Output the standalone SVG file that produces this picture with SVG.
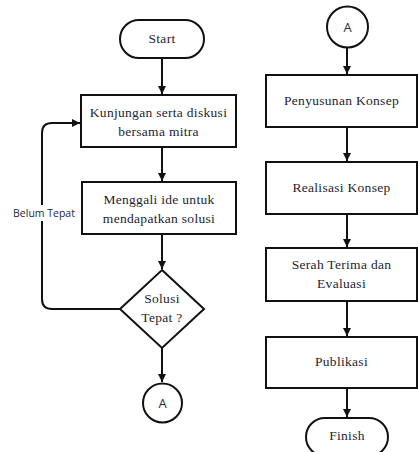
<svg xmlns="http://www.w3.org/2000/svg" width="418" height="452" viewBox="0 0 418 452">
<style>
.shape{fill:#fff;stroke:#111;stroke-width:2}
.lbl{font-family:"Liberation Serif","Times New Roman",serif;font-size:13.5px;letter-spacing:0.3px;fill:#1e1e30;text-anchor:middle}
.sans{font-family:"Open Sans","Noto Sans",sans-serif;font-size:10.5px;fill:#1e2a40;text-anchor:middle}
.conn{fill:none;stroke:#111;stroke-width:2}
</style>
<defs>
<marker id="arr" markerUnits="userSpaceOnUse" markerWidth="10" markerHeight="10" refX="8" refY="4" orient="auto">
<path d="M0,0 L8,4 L0,8 z" fill="#111"/>
</marker>
</defs>
<rect width="418" height="452" fill="#fff"/>
<g id="connectors">
<path class="conn" d="M162,58 V94" marker-end="url(#arr)"/>
<path class="conn" d="M162,147 V181" marker-end="url(#arr)"/>
<path class="conn" d="M162,234 V269" marker-end="url(#arr)"/>
<path class="conn" d="M162,348 V382" marker-end="url(#arr)"/>
<path class="conn" d="M120,309 H52 Q42,309 42,299 V133 Q42,123 52,123 H80" marker-end="url(#arr)"/>
<path class="conn" d="M347,48 V74" marker-end="url(#arr)"/>
<path class="conn" d="M347,127 V161" marker-end="url(#arr)"/>
<path class="conn" d="M347,214 V247" marker-end="url(#arr)"/>
<path class="conn" d="M347,301 V336" marker-end="url(#arr)"/>
<path class="conn" d="M347,388 V417" marker-end="url(#arr)"/>
<rect x="10" y="205" width="68" height="16" fill="#fff"/>
<text class="sans" x="44" y="217">Belum Tepat</text>
</g>
<g id="start">
<rect class="shape" x="120" y="20" width="84" height="38" rx="19"/>
<text class="lbl" x="162" y="43">Start</text>
</g>
<g id="kunjungan">
<rect class="shape" x="81" y="95" width="155" height="52"/>
<text class="lbl" x="158.5" y="117">Kunjungan serta diskusi</text>
<text class="lbl" x="158.5" y="136">bersama mitra</text>
</g>
<g id="menggali">
<rect class="shape" x="82" y="182" width="154" height="52"/>
<text class="lbl" x="159" y="204">Menggali ide untuk</text>
<text class="lbl" x="159" y="223">mendapatkan solusi</text>
</g>
<g id="solusi">
<path class="shape" d="M162,270 L204,309 L162,348 L120,309 Z"/>
<text class="lbl" x="162" y="303">Solusi</text>
<text class="lbl" x="162" y="322">Tepat ?</text>
</g>
<g id="connA1">
<circle class="shape" cx="162.5" cy="403" r="19.5"/>
<text class="sans" x="162.5" y="408" style="font-size:13px">A</text>
</g>
<g id="connA2">
<circle class="shape" cx="347.5" cy="27" r="20.5"/>
<text class="sans" x="347.5" y="32" style="font-size:13px">A</text>
</g>
<g id="penyusunan">
<rect class="shape" x="266" y="75" width="151" height="52"/>
<text class="lbl" x="341.5" y="105">Penyusunan Konsep</text>
</g>
<g id="realisasi">
<rect class="shape" x="266" y="162" width="151" height="52"/>
<text class="lbl" x="341.5" y="192">Realisasi Konsep</text>
</g>
<g id="serah">
<rect class="shape" x="266" y="248" width="151" height="53"/>
<text class="lbl" x="341.5" y="269">Serah Terima dan</text>
<text class="lbl" x="341.5" y="288">Evaluasi</text>
</g>
<g id="publikasi">
<rect class="shape" x="266" y="337" width="151" height="51"/>
<text class="lbl" x="341.5" y="366">Publikasi</text>
</g>
<g id="finish">
<rect class="shape" x="306" y="418" width="82" height="38" rx="19"/>
<text class="lbl" x="347" y="440">Finish</text>
</g>
</svg>
